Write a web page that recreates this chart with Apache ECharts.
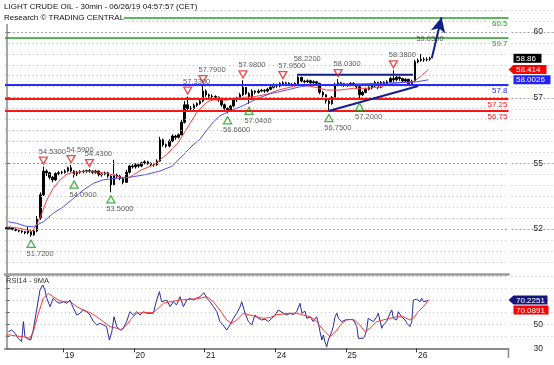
<!DOCTYPE html>
<html><head><meta charset="utf-8">
<script src="https://cdn.jsdelivr.net/npm/echarts@6/dist/echarts.min.js"></script>
<style>html,body{margin:0;padding:0;background:#fff}#c{width:554px;height:365px}</style>
</head><body><div id="c"></div>
<script>
// ---------- DATA ----------
const titleLine1 = 'LIGHT CRUDE OIL - 30min - 06/26/19 04:57:57 (CET)';
const titleLine2 = 'Research \u00A9 TRADING CENTRAL';
const rsiTitle = 'RSI14 - 9MA';

const days = ['18','19','20','21','24','25','26'];
const slotsPerDay = [19,23,23,23,23,23,30];

// [open, close, low, high] per hourly slot
const d18 = [[52.08,52.05,52.0,52.12],[52.05,52.08,52.0,52.12],[52.08,52.02,51.98,52.1],[52.02,51.98,51.94,52.05],[51.98,51.95,51.9,52.0],[51.95,51.92,51.86,51.98],[51.92,51.88,51.82,51.95],[51.88,51.95,51.82,52.12],[51.95,51.8,51.72,51.98],[51.8,51.95,51.76,52.0],[51.95,52.45,51.9,52.55],[52.45,53.4,52.4,53.5],[53.4,54.35,53.35,54.53],[54.35,54.28,54.15,54.42],[54.28,54.1,54.02,54.32],[54.1,54.0,53.9,54.15],[54.0,54.25,53.95,54.3],[54.25,54.28,54.18,54.35],[54.28,54.3,54.2,54.36]];
const d19 = [[54.3,54.35,54.25,54.42],[54.35,54.48,54.3,54.52],[54.48,54.35,54.3,54.59],[54.35,54.2,54.09,54.38],[54.2,54.3,54.15,54.35],[54.3,54.33,54.24,54.38],[54.33,54.35,54.26,54.4],[54.35,54.36,54.28,54.41],[54.36,54.35,54.28,54.43],[54.35,54.3,54.22,54.38],[54.3,54.35,54.24,54.4],[54.35,54.2,54.14,54.37],[54.2,54.22,54.12,54.28],[54.22,54.28,54.18,54.33],[54.28,54.15,54.08,54.32],[54.15,53.8,53.5,54.18],[53.8,54.2,53.75,54.8],[54.2,54.15,54.05,54.25],[54.15,54.05,53.98,54.2],[54.05,53.9,53.82,54.1],[53.9,54.3,53.88,54.4],[54.3,54.55,54.25,54.6],[54.55,54.52,54.45,54.62]];
const d20 = [[54.52,54.6,54.45,54.66],[54.6,54.55,54.48,54.65],[54.55,54.68,54.5,54.72],[54.68,54.72,54.62,54.78],[54.72,54.66,54.6,54.76],[54.66,54.62,54.55,54.7],[54.62,54.6,54.52,54.68],[54.6,54.75,54.56,54.82],[54.75,55.6,54.72,55.72],[55.6,55.4,55.32,55.65],[55.4,55.35,55.28,55.45],[55.35,55.55,55.3,55.62],[55.55,55.75,55.5,55.82],[55.75,55.7,55.6,55.8],[55.7,55.8,55.65,55.85],[55.8,56.3,55.78,56.42],[56.3,57.0,56.25,57.15],[57.0,56.85,56.75,57.33],[56.85,56.85,56.75,56.95],[56.85,56.98,56.8,57.05],[56.98,57.05,56.92,57.1],[57.05,57.15,57.0,57.2],[57.15,57.55,57.1,57.79]];
const d21 = [[57.55,57.4,57.32,57.62],[57.4,57.35,57.28,57.45],[57.35,57.33,57.25,57.42],[57.33,57.3,57.22,57.38],[57.3,57.2,57.12,57.34],[57.2,57.0,56.92,57.22],[57.0,56.85,56.8,57.05],[56.85,56.8,56.66,56.9],[56.8,56.95,56.75,57.0],[56.95,57.2,56.9,57.25],[57.2,57.28,57.12,57.32],[57.28,57.4,57.25,57.48],[57.4,57.7,57.35,57.98],[57.7,57.45,57.4,57.72],[57.45,57.3,57.04,57.5],[57.3,57.55,57.25,57.62],[57.55,57.5,57.42,57.58],[57.5,57.55,57.45,57.62],[57.55,57.58,57.5,57.64],[57.58,57.55,57.48,57.62],[57.55,57.62,57.5,57.68],[57.62,57.7,57.58,57.76],[57.7,57.8,57.65,57.86]];
const d24 = [[57.8,57.75,57.68,57.84],[57.75,57.85,57.7,57.9],[57.85,57.88,57.8,57.95],[57.88,57.86,57.8,57.92],[57.86,57.82,57.76,57.9],[57.82,57.8,57.74,57.88],[57.8,57.85,57.76,57.9],[57.85,58.1,57.82,58.22],[58.1,57.95,57.9,58.12],[57.95,57.92,57.86,58.0],[57.92,57.96,57.88,58.02],[57.96,57.88,57.82,58.0],[57.88,57.92,57.84,57.98],[57.92,57.86,57.78,57.96],[57.86,57.5,57.42,57.88],[57.5,57.4,57.3,57.56],[57.4,57.15,57.05,57.42],[57.15,57.05,56.75,57.2],[57.05,57.3,57.0,57.35],[57.3,57.8,57.25,57.88],[57.8,57.88,57.75,58.03],[57.88,57.85,57.78,57.92],[57.85,57.8,57.72,57.88]];
const d25 = [[57.8,57.79,57.72,57.85],[57.79,57.86,57.74,57.9],[57.86,57.8,57.74,57.9],[57.8,57.72,57.64,57.84],[57.72,57.4,57.2,57.75],[57.4,57.5,57.35,57.56],[57.5,57.62,57.46,57.68],[57.62,57.68,57.58,57.74],[57.68,57.75,57.62,57.8],[57.75,57.9,57.7,57.96],[57.9,57.7,57.62,57.92],[57.7,57.9,57.66,57.95],[57.9,57.85,57.78,57.94],[57.85,57.92,57.8,57.98],[57.92,58.05,57.88,58.12],[58.05,58.0,57.9,58.38],[58.0,58.1,57.94,58.15],[58.1,58.05,57.96,58.14],[58.05,57.95,57.88,58.08],[57.95,58.02,57.9,58.06],[58.02,57.85,57.78,58.04],[57.85,57.95,57.8,58.0],[57.95,58.72,57.92,58.8]];
const d26 = [[58.72,58.78,58.66,58.85],[58.78,58.82,58.72,59.03],[58.82,58.8,58.72,58.9],[58.8,58.82,58.74,58.9],[58.82,58.86,58.76,58.92]];

// moving averages on price: [time slot, value]
const maRed = [[0.6,52.12],[4.4,52.06],[6.6,51.99],[8.2,51.92],[9.8,52.19],[11.5,52.66],[13.1,53.19],[15.2,53.66],[17.4,53.99],[19.6,54.22],[21.8,54.3],[24,54.32],[27,54.33],[30,54.3],[33,54.25],[35.9,54.15],[38,54.08],[40,54.1],[42,54.25],[44,54.4],[46,54.5],[48,54.6],[50,54.8],[52,55.0],[54,55.25],[56,55.5],[58,55.9],[60,56.3],[62,56.7],[65.2,57.1],[67.4,57.2],[69.5,57.19],[71.7,57.19],[73.9,57.26],[77.1,57.3],[80.4,57.32],[83.6,57.39],[85.8,57.46],[88.5,57.59],[92.9,57.72],[95.6,57.79],[99.9,57.72],[104.3,57.59],[108.6,57.59],[113,57.66],[117.3,57.66],[121.6,57.72],[126,57.86],[132.5,57.92],[134.7,58.12],[137.4,58.41]];
const maBlue = [[0.6,52.32],[3.3,52.26],[6,52.15],[8.7,52.12],[12,52.32],[15.2,52.66],[18.5,52.92],[21.8,53.26],[25,53.59],[28.3,53.86],[31.5,54.0],[35,54.05],[40,54.1],[45,54.2],[50,54.35],[54,54.55],[57.6,55.0],[60.8,55.4],[63,55.62],[65.2,55.98],[67.4,56.32],[69.5,56.56],[72.8,56.75],[77.1,56.97],[81.5,57.24],[85.8,57.44],[91.2,57.59],[95.6,57.72],[99.9,57.79],[104.3,57.79],[108.6,57.83],[113,57.83],[121.6,57.86],[126,57.88],[133.6,57.92],[137.4,58.0]];

// RSI and its moving average: [time slot, value]
const rsi = [[0.6,43.8],[1.7,45.2],[2.8,42.5],[3.8,38.3],[4.9,35.5],[5.5,52.2],[6.0,39.7],[7.1,37.5],[7.9,36.9],[8.7,45.2],[9.8,61.9],[10.9,78.6],[11.8,82.8],[12.5,78.6],[13.1,71.7],[14.2,64.7],[15.2,71.7],[16.3,68.8],[17.4,67.5],[18.5,68.8],[19.6,67.5],[20.7,70.2],[21.8,63.3],[22.9,57.7],[23.9,59.2],[25.0,61.9],[26.1,60.5],[27.2,57.7],[28.3,52.2],[29.4,49.4],[30.5,50.8],[31.5,49.4],[32.6,48],[33.5,36.9],[34.3,43.8],[35.0,56.3],[35.9,48],[37.0,45.2],[38.0,46.7],[39.1,52.2],[40.2,60.5],[41.3,57.7],[42.4,60.5],[43.5,57.7],[44.6,60.5],[45.7,59.2],[46.7,59.2],[47.8,59.2],[48.9,70.2],[49.8,77.2],[50.5,68.8],[51.1,67.5],[52.2,70.2],[53.3,64.7],[54.3,68.8],[55.4,66.1],[56.5,73],[57.6,64.7],[58.7,70.2],[59.8,71.7],[60.8,70.2],[61.9,71.7],[63.0,73],[64.3,76.3],[65.2,71.7],[66.3,68.8],[67.4,64.7],[68.5,60.5],[69.5,52.2],[70.6,49.4],[71.7,45.2],[72.8,49.4],[73.9,55],[75.0,59.2],[76.1,64.7],[76.6,68.8],[77.7,59.2],[78.8,52.2],[79.9,49.4],[80.9,57.7],[82.0,55],[83.1,53.6],[84.2,54.2],[85.3,52.2],[86.4,55],[87.5,57.7],[88.5,61.9],[90.2,59.2],[91.3,57.7],[92.3,59.2],[93.4,58],[94.5,60.5],[95.6,67.5],[96.2,59.2],[96.7,57.7],[97.2,61],[97.8,55],[98.9,56.3],[99.9,52.2],[101.0,56.3],[101.6,50.8],[102.1,43.8],[102.7,36.9],[103.2,41.1],[103.7,35.5],[104.3,31.3],[104.8,36.9],[105.4,38.3],[105.9,43.8],[106.4,48],[107.0,56.3],[107.6,59.2],[108.1,55],[109.2,52.2],[110.3,53.6],[111.9,54.2],[113.0,53.6],[114.1,48],[114.6,38.3],[115.1,36.9],[116.2,38.3],[116.8,41.1],[117.3,45.2],[117.8,55],[118.4,56.3],[119.5,52.2],[120.6,56.3],[121.1,59.2],[122.2,46.7],[122.7,49.4],[123.8,52.2],[124.9,59.2],[125.5,61.9],[126.0,55],[127.1,53.6],[127.6,60.5],[128.2,59.2],[128.7,56.3],[129.2,57.7],[129.8,53.6],[130.4,50.8],[130.9,49.4],[131.4,48],[132.0,52.2],[132.5,70.2],[133.6,70.8],[134.7,68.8],[135.2,71.7],[135.8,68.8],[136.9,69.6],[137.4,70.23]];
const rsiMa = [[0,41.1],[1.1,41.1],[3.3,40.2],[5.5,39.7],[7.6,38.3],[8.7,43.8],[10.4,59.2],[12.0,71.7],[13.6,75.8],[15.2,73],[16.9,70.2],[18.5,68.8],[20.7,68.8],[22.9,64.7],[25.0,61.9],[27.2,59.7],[29.4,56.3],[31.5,52.2],[33.7,48],[35.9,46.7],[37.5,45.2],[39.1,49.4],[40.8,55],[42.4,59.2],[44.6,59.7],[47.8,59.7],[49.4,63.3],[51.1,67.5],[53.3,68.8],[56.5,70.2],[59.8,70.8],[63.0,71.7],[65.2,73],[67.4,68.8],[69.5,61.9],[71.7,53.6],[73.3,50.8],[75.0,53.6],[77.1,59.2],[79.3,57.7],[81.5,56.3],[83.6,55],[85.8,55.6],[88.0,58],[90.2,58.6],[92.3,59.2],[94.5,59.2],[96.7,57.7],[98.9,56.3],[101.0,52.2],[103.2,45.2],[105.4,39.7],[107.6,45.2],[109.2,50.8],[110.8,53.6],[113.0,54.2],[115.1,49.4],[116.8,43.8],[118.4,46.7],[120.6,52.2],[122.7,53.6],[124.9,55],[127.1,56.3],[129.2,56.3],[131.4,53.6],[132.5,55],[134.1,60.5],[135.8,64.7],[137.4,70.09]];

// annotated highs / lows [slot, price]
const highMarks = [[12,54.53],[21,54.59],[27,54.43],[59,57.33],[64,57.79],[77,57.98],[90,57.95],[108,58.03],[126,58.38]];
const highTextOnly = [[95,58.22],[135,59.03]];
const lowMarks = [[8,51.72],[22,54.09],[34,53.50],[72,56.66],[79,57.04],[105,56.75],[115,57.20]];

// horizontal levels
const levelValues = [60.5, 59.7, 57.8, 57.25, 56.75];
const levelTexts = ['60.5','59.7','57.8','57.25','56.75'];

// trend lines and projection [slot, price]
const resistanceLine = [[94.6,58.2],[132.4,58.2]];
const supportLine = [[104.9,56.75],[134.1,57.75]];
const projection = [[138.5,58.86],[141.7,60.5]];

// axis ticks and current values
const priceTicks = [52.03, 54.66, 57.29, 59.92];
const rsiLabelTicks = [30, 50, 70];
const lastPrice = 58.86, lastMaRed = 58.414, lastMaBlue = 58.0026;
const lastRsi = 70.2251, lastRsiMa = 70.0891;

// ---------- BUILD ----------
const categories = [];
const dayStart = new Set();
days.forEach((d,k)=>{ for(let h=0;h<slotsPerDay[k];h++){ const name=d+'-'+h; if(h===0 && k>0) dayStart.add(name); categories.push(name);} });
const nCat = categories.length;
const ohlc = [].concat(d18,d19,d20,d21,d24,d25,d26);

const FONT = '"Liberation Sans", Arial, sans-serif';
const C_GREEN='#23a023', C_BLUE='#2b2bff', C_RED='#ff1414', C_NAVY='#121f8c';
const levelColors=[C_GREEN,C_GREEN,C_BLUE,C_RED,C_RED];
const levelWidths=[1.5,1.5,2,2,2];

const YMIN=50.232, YMAX=61.192, RMIN=30, RMAX=91.9;
const minorStyle={type:[1,3],color:'#bcbccc',width:1};
const majorStyle={type:[2,2],color:'#a0a0ae',width:1};
const gridVals=[]; const step=(priceTicks[1]-priceTicks[0])/6;
for(let k=-6;k<=24;k++){ const v=priceTicks[0]+k*step; if(v>YMIN+0.05 && v<YMAX-0.05) gridVals.push({v, major:(k%6===0)}); }

const chart = echarts.init(document.getElementById('c'));
const GL=5, GR=45.5;
const option = {
  animation:false,
  backgroundColor:'#fff',
  grid:[
    {left:GL,right:GR,top:0,height:274,containLabel:false,outerBoundsMode:'none'},
    {left:GL,right:GR,top:274,height:74.3,containLabel:false,outerBoundsMode:'none'}
  ],
  xAxis:[
    {type:'category',gridIndex:0,data:categories,boundaryGap:true,axisLine:{show:true,lineStyle:{color:'#9a9a9a',width:2.5}},axisTick:{show:false},axisLabel:{show:false},splitLine:{show:false}},
    {type:'category',gridIndex:1,data:categories,boundaryGap:true,
      axisLine:{show:true,lineStyle:{color:'#8a8a8a',width:2}},
      axisTick:{show:true,length:4,interval:(i,v)=>dayStart.has(v),lineStyle:{color:'#333',width:1}},
      axisLabel:{show:true,interval:(i,v)=>dayStart.has(v),formatter:v=>v.split('-')[0],align:'left',margin:3,fontSize:8.5,fontFamily:FONT,color:'#222'},
      splitLine:{show:false}},
    {type:'value',gridIndex:0,min:-0.5,max:nCat-0.5,show:false,splitLine:{show:false}},
    {type:'value',gridIndex:1,min:-0.5,max:nCat-0.5,show:false,splitLine:{show:false}}
  ],
  yAxis:[
    {type:'value',gridIndex:0,position:'right',min:YMIN,max:YMAX,scale:true,
      axisLine:{show:true,lineStyle:{color:'#888',width:1.5}},
      axisTick:{show:true,length:3,customValues:priceTicks,lineStyle:{color:'#666'}},
      axisLabel:{show:true,customValues:priceTicks,formatter:v=>String(Math.round(v)),margin:25,fontSize:8.5,fontFamily:FONT,color:'#222'},
      splitLine:{show:false}},
    {type:'value',gridIndex:1,position:'right',min:RMIN,max:RMAX,interval:10,
      axisLine:{show:true,lineStyle:{color:'#888',width:1.5}},
      axisTick:{show:true,length:3,lineStyle:{color:'#666'}},
      axisLabel:{show:true,formatter:v=>rsiLabelTicks.indexOf(Math.round(v*1000)/1000)>=0?String(v):'',margin:25,fontSize:8.5,fontFamily:FONT,color:'#222',showMaxLabel:false},
      splitLine:{show:true,lineStyle:{type:[1,3],color:'#bcbccc'}}}
  ],
  series:[
    {type:'line',xAxisIndex:2,yAxisIndex:0,data:[],silent:true,z:0,
      markLine:{silent:true,symbol:'none',animation:false,label:{show:false},
        data:gridVals.map(g=>({yAxis:g.v,lineStyle:g.major?majorStyle:minorStyle}))}},
    {type:'candlestick',xAxisIndex:0,yAxisIndex:0,data:ohlc,barWidth:2,z:2,
      itemStyle:{color:'#000',color0:'#000',borderColor:'#000',borderColor0:'#000',borderWidth:1}},
    {type:'line',xAxisIndex:2,yAxisIndex:0,data:maRed,showSymbol:false,symbol:'none',z:3,lineStyle:{color:'#ff3b3b',width:1}},
    {type:'line',xAxisIndex:2,yAxisIndex:0,data:maBlue,showSymbol:false,symbol:'none',z:3,lineStyle:{color:'#5050f0',width:1}},
    {type:'line',xAxisIndex:2,yAxisIndex:0,data:[],z:4,
      markLine:{silent:true,symbol:'none',animation:false,
        data:levelValues.map((v,i)=>({yAxis:v,lineStyle:{type:'solid',color:levelColors[i],width:levelWidths[i]},
          label:{show:true,position:'insideEndBottom',formatter:levelTexts[i],color:levelColors[i],fontSize:8,fontFamily:FONT,distance:[1,2]}}))}},
    {type:'line',xAxisIndex:2,yAxisIndex:0,data:resistanceLine,symbol:'none',z:5,lineStyle:{color:C_NAVY,width:2}},
    {type:'line',xAxisIndex:2,yAxisIndex:0,data:supportLine,symbol:'none',z:5,lineStyle:{color:C_NAVY,width:2}},
    {type:'line',xAxisIndex:2,yAxisIndex:0,data:[],z:6,
      markLine:{silent:true,animation:false,symbol:['none','arrow'],symbolSize:[11,15],
        lineStyle:{color:C_NAVY,width:2,type:'solid'},label:{show:false},
        data:[[{coord:projection[0]},{coord:projection[1]}]]}},
    {type:'scatter',xAxisIndex:0,yAxisIndex:0,data:highMarks,symbol:'triangle',symbolRotate:180,symbolSize:[8,7],symbolOffset:[0,-6],z:7,
      itemStyle:{color:'rgba(255,255,255,0)',borderColor:'#e61e1e',borderWidth:1.3}},
    {type:'scatter',xAxisIndex:0,yAxisIndex:0,data:lowMarks,symbol:'triangle',symbolSize:[8,7],symbolOffset:[0,7],z:7,
      itemStyle:{color:'rgba(255,255,255,0)',borderColor:'#1e9a1e',borderWidth:1.3}},
    {type:'scatter',xAxisIndex:0,yAxisIndex:0,data:highMarks.concat(highTextOnly),symbolSize:1,z:8,itemStyle:{color:'rgba(0,0,0,0)'},
      label:{show:true,position:'inside',offset:[9,-15],formatter:p=>p.value[1].toFixed(4),fontSize:7.5,fontFamily:FONT,color:'#333'}},
    {type:'scatter',xAxisIndex:0,yAxisIndex:0,data:lowMarks,symbolSize:1,z:8,itemStyle:{color:'rgba(0,0,0,0)'},
      label:{show:true,position:'inside',offset:[9,17],formatter:p=>p.value[1].toFixed(4),fontSize:7.5,fontFamily:FONT,color:'#333'}},
    {type:'line',xAxisIndex:3,yAxisIndex:1,data:rsi,symbol:'none',z:3,lineStyle:{color:'#2a2a9e',width:1}},
    {type:'line',xAxisIndex:3,yAxisIndex:1,data:rsiMa,symbol:'none',z:4,lineStyle:{color:'#ff3434',width:1}}
  ]
};
chart.setOption(option);

// value tags on the right axis, placed with the library's scales
const py = v=>chart.convertToPixel({yAxisIndex:0},v);
const ry = v=>chart.convertToPixel({yAxisIndex:1},v);
const AX = chart.convertToPixel({xAxisIndex:2}, nCat-0.5);
const g = [];
function tag(y,text,bg,arrow,x0,w){
  const h=9;
  if(arrow){ g.push({type:'polygon',z:100,shape:{points:[[AX,y],[AX+5,y-h/2],[x0+w,y-h/2],[x0+w,y+h/2],[AX+5,y+h/2]]},style:{fill:bg}}); }
  else { g.push({type:'rect',z:100,shape:{x:x0,y:y-h/2,width:w,height:h},style:{fill:bg}}); }
  g.push({type:'text',z:101,x:x0+2.5,y:y+0.5,style:{text:text,fill:'#fff',font:'8px '+FONT,verticalAlign:'middle'}});
}
// dotted grid continuation in the right margin
gridVals.forEach(gv=>{ const y=Math.round(py(gv.v))+0.5; g.push({type:'line',z:1,shape:{x1:AX+3,y1:y,x2:554,y2:y},style:{stroke:gv.major?'#a0a0ae':'#bcbccc',lineDash:gv.major?[2,2]:[1,3],lineWidth:1}}); });
[40,50,60,70,80,90].forEach(v=>{ const y=Math.round(ry(v))+0.5; g.push({type:'line',z:1,shape:{x1:AX+3,y1:y,x2:554,y2:y},style:{stroke:'#bcbccc',lineDash:[1,3],lineWidth:1}}); });
tag(py(lastPrice), lastPrice.toFixed(2), '#000', false, AX+5, 28);
tag(py(lastMaRed), String(lastMaRed), '#ff0000', true, AX+5, 33);
tag(py(lastMaBlue), String(lastMaBlue), '#2020ff', false, AX+5, 37);
tag(ry(lastRsi), lastRsi.toFixed(4), '#16167a', true, AX+5, 34);
tag(ry(lastRsi)+10, lastRsiMa.toFixed(4), '#ff0000', false, AX+5, 35);
g.push({type:'line',z:50,shape:{x1:AX,y1:348,x2:AX,y2:358},style:{stroke:'#888',lineWidth:1.5}});
// title block
g.push({type:'rect',z:90,shape:{x:0,y:0,width:124,height:24},style:{fill:'#fff'}});
g.push({type:'text',z:91,x:4,y:3,style:{text:titleLine1,fill:'#111',font:'8px '+FONT}});
g.push({type:'text',z:91,x:4,y:14,style:{text:titleLine2,fill:'#111',font:'8px '+FONT}});
g.push({type:'text',z:91,x:6,y:277,style:{text:rsiTitle,fill:'#333',font:'7.5px '+FONT}});
chart.setOption({graphic:g});
</script></body></html>
